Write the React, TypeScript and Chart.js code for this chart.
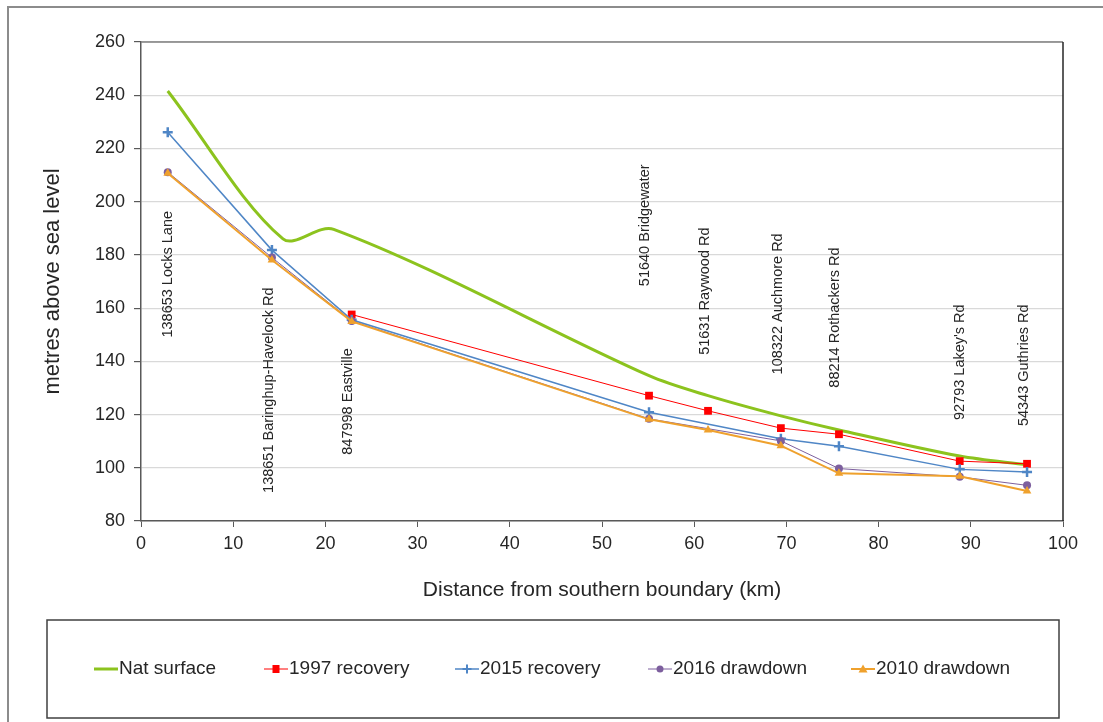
import React, { useEffect, useRef } from 'react';
import { Chart, registerables } from 'chart.js';

Chart.register(...registerables);

const FONT = '"Liberation Sans", Arial, sans-serif';

// Station positions along the transect (km) and their names
const stationKm = [2.9, 14.2, 22.85, 55.1, 61.5, 69.4, 75.7, 88.8, 96.1];
const stationNames = [
  '138653 Locks Lane',
  '138651 Baringhup-Havelock Rd',
  '847998 Eastville',
  '51640 Bridgewater',
  '51631 Raywood Rd',
  '108322 Auchmore Rd',
  '88214 Rothackers Rd',
  "92793 Lakey's Rd",
  '54343 Guthries Rd',
];
// label anchor (x in km, top end of the vertical text in metres)
const labelKm = [2.9, 13.9, 22.4, 54.7, 61.2, 69.1, 75.3, 88.8, 95.8];
const labelTop = [196.5, 167.8, 144.9, 214.0, 190.3, 188.1, 182.8, 161.4, 161.4];

// Natural surface profile (smoothed line)
const natKm = [2.9, 15.4, 20.9, 55.1, 61.5, 69.4, 75.7, 88.8, 96.1];
const natSurface = [241.6, 186.0, 189.6, 134.6, 127.1, 119.5, 114.2, 104.4, 101.1];

// Series values at the stations (metres above sea level), null = no reading
const recovery1997 = [null, null, 157.6, 127.1, 121.4, 114.9, 112.6, 102.5, 101.5];
const recovery2015 = [226.1, 181.8, 155.6, 120.9, null, 110.9, 108.1, 99.4, 98.4];
const drawdown2016 = [211.1, 179.0, 155.2, 118.4, null, 110.1, 99.7, 96.6, 93.4];
const drawdown2010 = [210.7, 178.1, 155.0, 118.2, 114.2, 108.3, 97.9, 96.8, 91.3];

const seriesNames = ['Nat surface', '1997 recovery', '2015 recovery', '2016 drawdown', '2010 drawdown'];

const xTicks = [0, 100, 10];
const yTicks = [80, 260, 20];

const COLORS = {
  nat: '#8CC31E',
  r97: '#FF0000',
  r15: '#4F86C6',
  d16: '#7D5F9E',
  d10: '#EFA12D',
};

function pts(xs: number[], vals: (number | null)[]) {
  const out: { x: number; y: number }[] = [];
  vals.forEach((v, i) => {
    if (v !== null) out.push({ x: xs[i], y: v });
  });
  return out;
}

function drawMarker(ctx: CanvasRenderingContext2D, style: string, x: number, y: number, color: string) {
  ctx.save();
  ctx.fillStyle = color;
  ctx.strokeStyle = color;
  if (style === 'rect') {
    ctx.fillRect(x - 3.5, y - 4, 7, 8);
  } else if (style === 'cross') {
    ctx.lineWidth = 2;
    ctx.beginPath();
    ctx.moveTo(x - 4.5, y);
    ctx.lineTo(x + 4.5, y);
    ctx.moveTo(x, y - 4.5);
    ctx.lineTo(x, y + 4.5);
    ctx.stroke();
  } else if (style === 'circle') {
    ctx.beginPath();
    ctx.arc(x, y, 3.5, 0, Math.PI * 2);
    ctx.fill();
  } else if (style === 'triangle') {
    ctx.beginPath();
    ctx.moveTo(x, y - 4.5);
    ctx.lineTo(x + 4.5, y + 3.5);
    ctx.lineTo(x - 4.5, y + 3.5);
    ctx.closePath();
    ctx.fill();
  }
  ctx.restore();
}

const legendStart = [94, 264, 455, 648, 851];
const legendStyles = ['none', 'rect', 'cross', 'circle', 'triangle'];
const legendWidths = [3, 1, 1.5, 1, 2];
const legendColors = [COLORS.nat, COLORS.r97, COLORS.r15, COLORS.d16, COLORS.d10];

const overlay = {
  id: 'overlay',
  beforeDraw(chart: any) {
    const { ctx, width, height } = chart;
    ctx.save();
    ctx.fillStyle = '#ffffff';
    ctx.fillRect(0, 0, width, height);
    ctx.restore();
  },
  beforeDatasetsDraw(chart: any) {
    const { ctx, scales } = chart;
    ctx.save();
    ctx.fillStyle = '#262626';
    ctx.font = '14.5px ' + FONT;
    ctx.textAlign = 'right';
    ctx.textBaseline = 'middle';
    stationNames.forEach((name, i) => {
      const px = scales.x.getPixelForValue(labelKm[i]);
      const py = scales.y.getPixelForValue(labelTop[i]);
      ctx.save();
      ctx.translate(px, py);
      ctx.rotate(-Math.PI / 2);
      ctx.fillText(name, 0, 0);
      ctx.restore();
    });
    ctx.restore();
  },
  afterDraw(chart: any) {
    const { ctx, chartArea, width, height } = chart;
    ctx.save();
    // plot area top and right border
    ctx.lineWidth = 1.5;
    ctx.strokeStyle = '#7f7f7f';
    ctx.beginPath();
    ctx.moveTo(chartArea.left, chartArea.top);
    ctx.lineTo(chartArea.right, chartArea.top);
    ctx.stroke();
    ctx.strokeStyle = '#262626';
    ctx.beginPath();
    ctx.moveTo(chartArea.right, chartArea.top);
    ctx.lineTo(chartArea.right, chartArea.bottom);
    ctx.stroke();

    // outer frame
    ctx.strokeStyle = '#8c8c8c';
    ctx.lineWidth = 2;
    ctx.beginPath();
    ctx.moveTo(width, 7);
    ctx.lineTo(8, 7);
    ctx.lineTo(8, height);
    ctx.stroke();

    // legend box
    ctx.strokeStyle = '#404040';
    ctx.lineWidth = 1.5;
    ctx.strokeRect(47, 620, 1059 - 47, 718 - 620);

    // legend entries
    const ly = 669;
    ctx.font = '19px ' + FONT;
    ctx.textBaseline = 'middle';
    ctx.textAlign = 'left';
    seriesNames.forEach((name, i) => {
      const x0 = legendStart[i];
      const x1 = x0 + 24;
      ctx.strokeStyle = legendColors[i];
      ctx.lineWidth = legendWidths[i];
      ctx.beginPath();
      ctx.moveTo(x0, ly);
      ctx.lineTo(x1, ly);
      ctx.stroke();
      drawMarker(ctx, legendStyles[i], (x0 + x1) / 2, ly, legendColors[i]);
      ctx.fillStyle = '#262626';
      ctx.fillText(name, x1 + 1, ly);
    });
    ctx.restore();
  },
};

export default function App() {
  const ref = useRef<HTMLCanvasElement | null>(null);

  useEffect(() => {
    document.body.style.margin = '0';
    const canvas = ref.current;
    if (!canvas) return;
    const tickFont = { family: FONT, size: 18 };
    const chart = new Chart(canvas, {
      type: 'line',
      data: {
        datasets: [
          {
            label: seriesNames[0],
            data: pts(natKm, natSurface),
            borderColor: COLORS.nat,
            backgroundColor: COLORS.nat,
            borderWidth: 3,
            pointRadius: 0,
            tension: 0.32,
            order: 5,
          },
          {
            label: seriesNames[1],
            data: pts(stationKm, recovery1997),
            borderColor: COLORS.r97,
            backgroundColor: COLORS.r97,
            borderWidth: 1,
            pointStyle: 'rect',
            pointRadius: 5.5,
            pointBorderWidth: 0,
            tension: 0,
            order: 4,
          },
          {
            label: seriesNames[2],
            data: pts(stationKm, recovery2015),
            borderColor: COLORS.r15,
            backgroundColor: COLORS.r15,
            borderWidth: 1.5,
            pointStyle: 'cross',
            pointRadius: 5,
            pointBorderWidth: 2.5,
            tension: 0,
            order: 3,
          },
          {
            label: seriesNames[3],
            data: pts(stationKm, drawdown2016),
            borderColor: COLORS.d16,
            backgroundColor: COLORS.d16,
            borderWidth: 1,
            pointStyle: 'circle',
            pointRadius: 4,
            pointBorderWidth: 0,
            tension: 0,
            order: 2,
          },
          {
            label: seriesNames[4],
            data: pts(stationKm, drawdown2010),
            borderColor: COLORS.d10,
            backgroundColor: COLORS.d10,
            borderWidth: 2,
            pointStyle: 'triangle',
            pointRadius: 5,
            pointBorderWidth: 0,
            tension: 0,
            order: 1,
          },
        ],
      },
      options: {
        animation: false,
        responsive: false,
        maintainAspectRatio: false,
        events: [],
        layout: { padding: { top: 42, right: 40, left: 0, bottom: 0 } },
        plugins: {
          legend: { display: false },
          tooltip: { enabled: false },
        },
        scales: {
          x: {
            type: 'linear',
            min: xTicks[0],
            max: xTicks[1],
            ticks: {
              stepSize: xTicks[2],
              font: tickFont,
              color: '#262626',
              padding: 6,
              maxRotation: 0,
            },
            grid: {
              drawOnChartArea: false,
              drawTicks: true,
              tickLength: 6,
              color: '#595959',
              tickColor: '#595959',
            },
            border: { color: '#595959', width: 1.5 },
            title: {
              display: true,
              text: 'Distance from southern boundary (km)',
              font: { family: FONT, size: 21 },
              color: '#262626',
              padding: { top: 0, bottom: 118.7 },
            },
            afterFit: (s: any) => {
              s.height = 201;
            },
          },
          y: {
            type: 'linear',
            min: yTicks[0],
            max: yTicks[1],
            ticks: {
              stepSize: yTicks[2],
              font: tickFont,
              color: '#262626',
              padding: 9,
            },
            grid: {
              color: '#d9d9d9',
              lineWidth: 1.2,
              tickColor: '#595959',
              tickLength: 7,
            },
            border: { color: '#595959', width: 1.5 },
            title: {
              display: true,
              text: 'metres above sea level',
              font: { family: FONT, size: 22 },
              color: '#262626',
              padding: { top: 40, bottom: 0 },
            },
            afterFit: (s: any) => {
              s.width = 141;
            },
          },
        },
      } as any,
      plugins: [overlay],
    });
    return () => chart.destroy();
  }, []);

  return (
    <div style={{ width: 1103, height: 722, position: 'relative' }}>
      <canvas ref={ref} width={1103} height={722} style={{ display: 'block', width: 1103, height: 722 }} />
    </div>
  );
}
